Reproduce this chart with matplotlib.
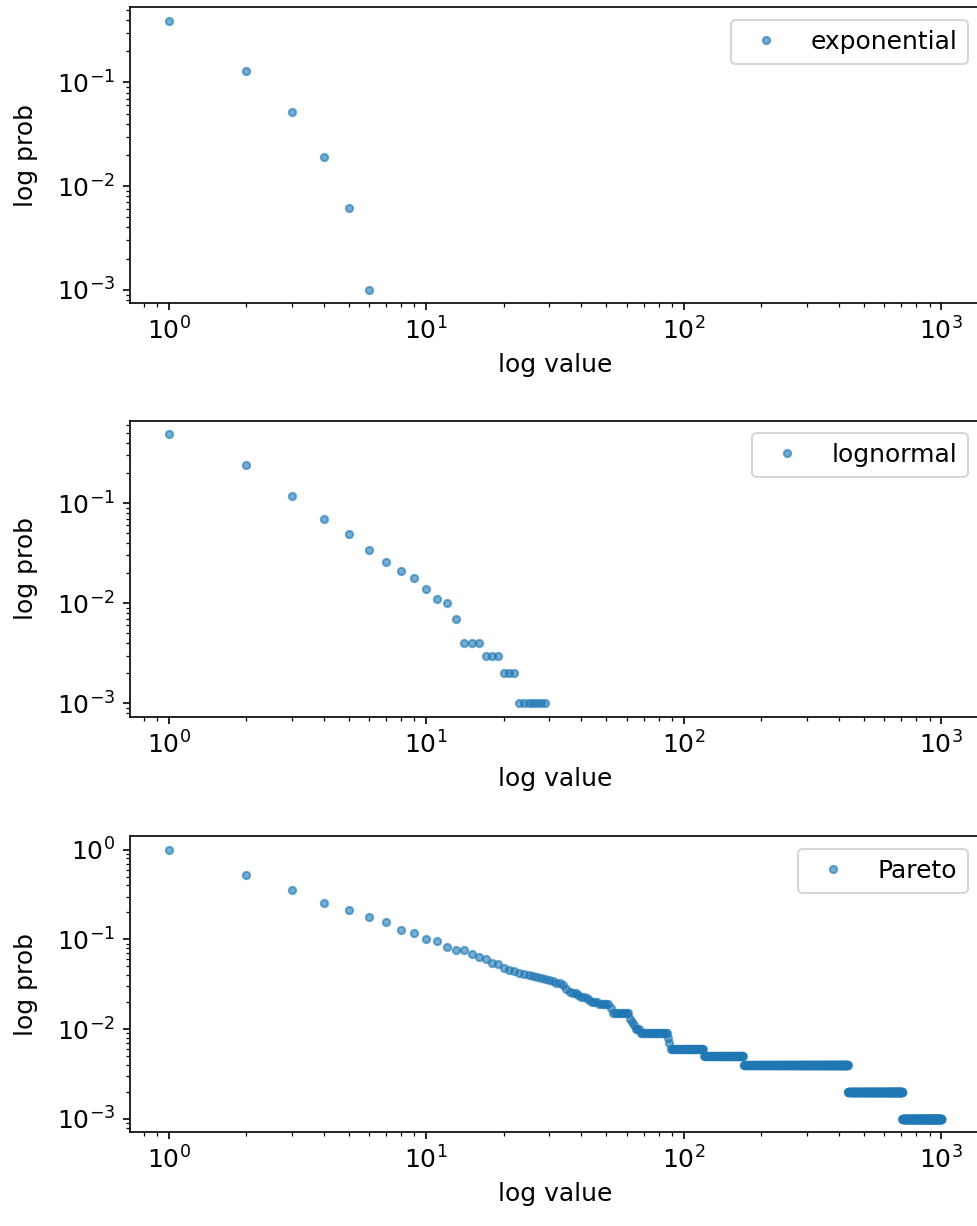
import numpy as np
import matplotlib
matplotlib.use("Agg")
import matplotlib.pyplot as plt

# values (x = value, y = probability)
exp_x = [1, 2, 3, 4, 5, 6]
exp_p = [0.394, 0.128, 0.052, 0.019, 0.0062, 0.001]

logn_x = list(range(1, 30))
logn_p = [0.49, 0.241, 0.118, 0.069, 0.049, 0.034, 0.026, 0.021, 0.018, 0.014,
          0.011, 0.010, 0.007, 0.004, 0.004, 0.004, 0.003, 0.003, 0.003,
          0.002, 0.002, 0.002, 0.001, 0.001, 0.001, 0.001, 0.001, 0.001, 0.001]

# Pareto: first values one by one, then the flat runs (start, end, prob)
pareto_head = [1.0, 0.518, 0.356, 0.258, 0.213, 0.177, 0.155, 0.127, 0.117, 0.100,
               0.097, 0.083, 0.077, 0.076, 0.068, 0.063, 0.060, 0.055, 0.053, 0.048,
               0.046, 0.044, 0.042, 0.041, 0.040, 0.039, 0.038, 0.037, 0.036, 0.035,
               0.034, 0.033, 0.033, 0.031, 0.028, 0.026, 0.025, 0.025, 0.024, 0.023,
               0.023, 0.022, 0.021, 0.020, 0.020, 0.020, 0.019, 0.019, 0.019, 0.019,
               0.019, 0.017]
pareto_runs = [(53, 61, 0.015), (62, 62, 0.013), (63, 63, 0.012), (64, 64, 0.011),
               (65, 67, 0.010), (68, 86, 0.009), (87, 87, 0.008), (88, 88, 0.007),
               (89, 119, 0.006), (120, 170, 0.005), (171, 433, 0.004),
               (434, 705, 0.002), (706, 1000, 0.001)]

pareto_x = list(range(1, len(pareto_head) + 1))
pareto_p = list(pareto_head)
for start, end, p in pareto_runs:
    for v in range(start, end + 1):
        pareto_x.append(v)
        pareto_p.append(p)

series = [("exponential", exp_x, exp_p),
          ("lognormal", logn_x, logn_p),
          ("Pareto", pareto_x, pareto_p)]

plt.rcParams['font.size'] = 12

fig = plt.figure(figsize=(978 / 150, 1226 / 150), dpi=150)
left = 130 / 978
width = 850 / 978
height = 296 / 1226
bottoms = [1 - 303.3 / 1226, 1 - 716.7 / 1226, 1 - 1132.3 / 1226]

axes = []
for (name, x, p), b in zip(series, bottoms):
    ax = fig.add_axes([left, b, width, height])
    ax.plot(x, p, 'o', markersize=3.5, alpha=0.6, color='#1f77b4', label=name)
    ax.set_xscale('log')
    ax.set_yscale('log')
    ax.set_xlabel('log value')
    ax.set_ylabel('log prob', labelpad=9)
    ax.legend(loc='upper right')
    axes.append(ax)

# all panels use the x range of the Pareto panel
xlim = axes[2].get_xlim()
for ax in axes[:2]:
    ax.set_xlim(xlim)

fig.savefig('out.png', dpi=150)
